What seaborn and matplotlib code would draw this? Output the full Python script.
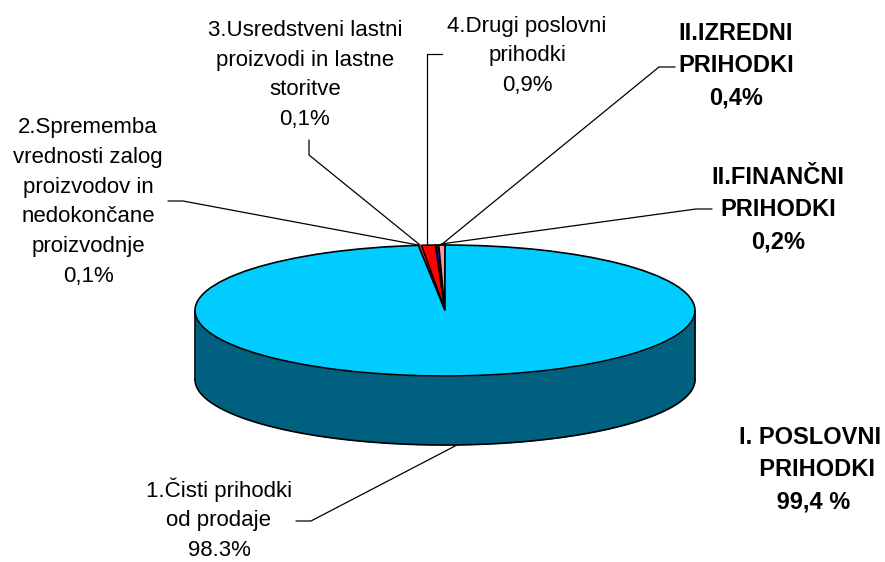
import numpy as np
import matplotlib
matplotlib.use("Agg")
import matplotlib.pyplot as plt
import seaborn as sns

# Data: clockwise from 12 o'clock
slice_names = ["1.Čisti prihodki", "2.Sprememba", "3.Usredstveni", "4.Drugi", "II.Finančni", "II.Izredni"]
slice_values = [98.3, 0.1, 0.1, 0.9, 0.2, 0.4]
slice_colors = ["#00CCFF", "#FF0000", "#FF0000", "#FF0000", "#0000FF", "#FF9999"]
side_color = "#006080"

labels = [
    ("3.Usredstveni lastni\nproizvodi in lastne\nstoritve\n0,1%", 305, 75, "normal"),
    ("4.Drugi poslovni\nprihodki\n0,9%", 527, 56, "normal"),
    ("II.IZREDNI\nPRIHODKI\n0,4%", 736, 66, "bold"),
    ("II.FINANČNI\nPRIHODKI\n0,2%", 778, 210, "bold"),
    ("I. POSLOVNI\n  PRIHODKI\n 99,4 %", 810, 470, "bold"),
    ("2.Sprememba\nvrednosti zalog\nproizvodov in\nnedokončane\nproizvodnje\n0,1%", 88, 202, "normal"),
    ("1.Čisti prihodki\nod prodaje\n98.3%", 219, 519, "normal"),
]
leaders = [
    [(457, 445), (311, 521), (296, 521)],
    [(418, 245), (183, 201), (168, 201)],
    [(420, 245), (309, 155), (309, 140)],
    [(427, 245), (427, 54), (442, 54)],
    [(441, 245), (659, 67), (675, 67)],
    [(441, 244), (696, 209), (712, 209)],
]

sns.set_theme(style="white", font="Liberation Sans")
W, H = 885, 562
fig = plt.figure(figsize=(W / 100, H / 100), dpi=100, facecolor="white")

# Pie top: axes occupy the ellipse's bounding box
L, T, EW, EH, DEPTH = 195, 245, 500, 131, 69
ax = fig.add_axes([L / W, 1 - (T + EH) / H, EW / W, EH / H])
wedges, _ = ax.pie(slice_values, colors=sns.color_palette(slice_colors), startangle=90, counterclock=False,
                   radius=1, wedgeprops=dict(edgecolor="black", linewidth=1.2), normalize=True)
ax.set_aspect("auto")
ax.set_xlim(-1, 1)
ax.set_ylim(-1, 1)
ax.axis("off")
for w in wedges:
    w.set_zorder(5)
    w.set_clip_on(False)
# The two 0.1 % slices are too thin to show as more than part of the red sliver
for w in wedges[1:3]:
    w.set_edgecolor("none")
wedges[0].set_zorder(6)

# Extruded side
d = 2 * DEPTH / EH
t = np.linspace(np.pi, 2 * np.pi, 400)
xs, ys = np.cos(t), np.sin(t)
ax.fill_between(xs, ys, ys - d, color=side_color, lw=0, clip_on=False, zorder=2)
ax.plot(xs, ys - d, color="black", lw=1.2, clip_on=False, zorder=3)
ax.plot([-1, -1], [0, -d], color="black", lw=1.2, clip_on=False, zorder=3)
ax.plot([1, 1], [0, -d], color="black", lw=1.2, clip_on=False, zorder=3)

# Overlay in pixel coordinates: leaders and text
ov = fig.add_axes([0, 0, 1, 1], facecolor="none")
ov.set_xlim(0, W)
ov.set_ylim(H, 0)
ov.axis("off")
for pts in leaders:
    px, py = zip(*pts)
    ov.plot(px, py, color="black", lw=0.9, solid_joinstyle="miter")
for text, x, y, weight in labels:
    bold = weight == "bold"
    ov.text(x, y, text, ha="center", va="center", fontsize=17 if bold else 16, fontweight=weight,
            color="black", linespacing=1.5 if bold else 1.54, family="Liberation Sans")

fig.savefig("out.png", dpi=100, facecolor="white")
